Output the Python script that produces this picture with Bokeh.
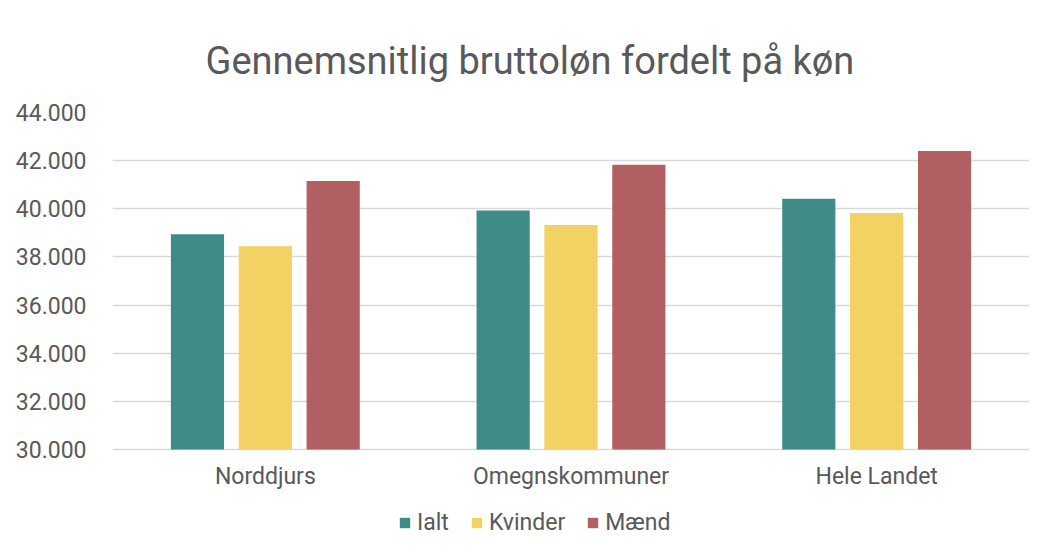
from bokeh.plotting import figure
from bokeh.models import (FactorRange, Range1d, FixedTicker, CustomJSTickFormatter, Legend, LegendItem,
                          Title, ColumnDataSource, LabelSet)
from bokeh.core.properties import value
from bokeh.transform import dodge
from bokeh.embed import file_html
from bokeh.resources import INLINE

categories = ["Norddjurs", "Omegnskommuner", "Hele Landet"]
series = ["Ialt", "Kvinder", "Mænd"]
ialt = [38940, 39930, 40420]
kvinder = [38440, 39330, 39830]
maend = [41150, 41830, 42400]
y_ticks = [30000, 32000, 34000, 36000, 38000, 40000, 42000, 44000]
colors = ["#3f8b88", "#f1d262", "#b15f63"]
title_text = "Gennemsnitlig bruttoløn fordelt på køn"

FONT = "Roboto"
GREY = "#595959"

y_floor = y_ticks[0]
y_top = y_ticks[-1]
# frame extends below the value axis floor to leave room for category labels and legend
y_start = y_floor - (y_top - y_floor) * 97 / 337

src = ColumnDataSource(dict(cat=categories, Ialt=ialt, Kvinder=kvinder, Maend=maend,
                            base=[y_floor] * len(categories)))
cols = ["Ialt", "Kvinder", "Maend"]

p = figure(x_range=FactorRange(*categories), y_range=Range1d(y_start, y_top),
           width=1048, height=546, x_axis_location=None,
           output_backend="svg", toolbar_location=None,
           min_border_left=112, min_border_right=19, min_border_top=112, min_border_bottom=0)
p.outline_line_color = None
p.background_fill_color = "white"
p.border_fill_color = "white"

renderers = []
offsets = [-0.222, 0.0, 0.222]
for col, c, off in zip(cols, colors, offsets):
    r = p.vbar(x=dodge("cat", off, range=p.x_range), top=col, bottom="base", width=0.174,
               source=src, fill_color=c, line_color=None)
    renderers.append(r)

p.xgrid.grid_line_color = None
p.ygrid.grid_line_color = "#d9d9d9"
p.ygrid.grid_line_width = 1.5

p.yaxis.ticker = FixedTicker(ticks=y_ticks)
p.yaxis.formatter = CustomJSTickFormatter(code="return tick.toFixed(0).replace(/\\B(?=(\\d{3})+(?!\\d))/g, '.');")
p.yaxis.axis_line_color = None
p.yaxis.major_tick_line_color = None
p.yaxis.minor_tick_line_color = None
p.yaxis.major_label_standoff = 20
p.yaxis.major_label_text_font = FONT
p.yaxis.major_label_text_font_size = "23px"
p.yaxis.major_label_text_color = GREY

cat_labels = LabelSet(x="cat", y="base", text="cat", source=src, text_align="center",
                      text_baseline="top", y_offset=-13, text_font=value(FONT),
                      text_font_size=value("23px"), text_color=value(GREY))
p.add_layout(cat_labels)

legend = Legend(items=[LegendItem(label=s, renderers=[r]) for s, r in zip(series, renderers)],
                orientation="horizontal", location=(286, 10),
                label_text_font=FONT, label_text_font_size="23px", label_text_color=GREY,
                glyph_width=13, glyph_height=13, label_standoff=6, spacing=21,
                padding=0, margin=0, border_line_color=None, background_fill_alpha=0)
p.add_layout(legend, "center")

t = Title(text=title_text, align="left", text_font=FONT, text_font_size="38px",
          text_color=GREY, text_font_style="normal", standoff=60, offset=93)
p.add_layout(t, "above")

open("out.html", "w").write(file_html(p, INLINE))
